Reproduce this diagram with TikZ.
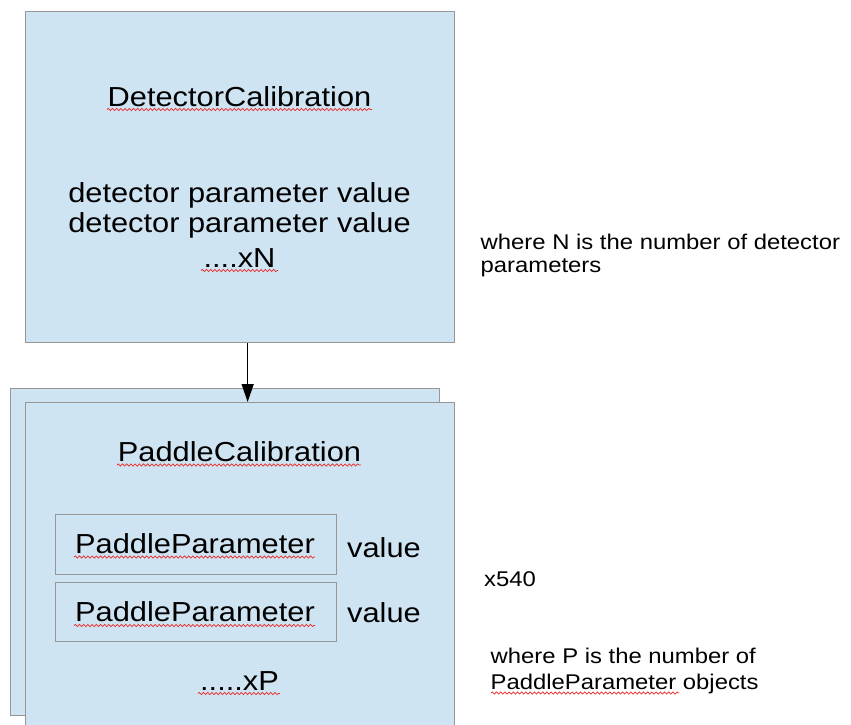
\documentclass[tikz,border=0pt]{standalone}
\usepackage{fontspec}
\setmainfont{Liberation Sans}[FakeStretch=1.12]
\usetikzlibrary{arrows.meta,decorations.pathmorphing}
\definecolor{boxfill}{RGB}{207,228,242}
\definecolor{boxline}{RGB}{150,150,150}
\definecolor{squigred}{RGB}{235,40,40}
\tikzset{
  box/.style={draw=boxline,fill=boxfill,line width=1.3pt,rectangle,inner sep=0pt,anchor=north west},
  bigtxt/.style={inner sep=0pt,font=\fontsize{27.5}{33}\selectfont,text=black},
  smalltxt/.style={inner sep=0pt,font=\fontsize{21.3}{25}\selectfont,text=black,anchor=base west},
  squig/.style={draw=squigred,line width=0.7pt,decorate,decoration={snake,amplitude=1.1pt,segment length=4.2pt}},
  conn/.style={draw=black,line width=1.3pt,-{Triangle[length=18pt,width=12pt]}}
}
\begin{document}
\begin{tikzpicture}[x=1pt,y=-1pt]
\useasboundingbox (0,0) rectangle (851,724);
\begin{scope}
\clip (0,0) rectangle (851,724);
% boxes
\node[box,minimum width=429pt,minimum height=331pt] (det) at (25,11) {};
\node[box,minimum width=429pt,minimum height=327pt] (pcback) at (10,388) {};
\node[box,minimum width=429pt,minimum height=345pt] (pc) at (25,402) {};
\node[box,minimum width=281pt,minimum height=60pt] (pp1) at (55,514) {};
\node[box,minimum width=281pt,minimum height=59pt] (pp2) at (55,582) {};
% texts in detector box
\node[bigtxt,anchor=base] (dettitle) at (239.5,106) {DetectorCalibration};
\node[bigtxt,anchor=base] (detl1) at (239.5,202) {detector parameter value};
\node[bigtxt,anchor=base] (detl2) at (239.5,232) {detector parameter value};
\node[bigtxt,anchor=base] (detl3) at (239.5,267) {....xN};
% texts in paddle box
\node[bigtxt,anchor=base] (pctitle) at (239.5,461.5) {PaddleCalibration};
\node[bigtxt,anchor=base] (pp1t) at (195,553) {PaddleParameter};
\node[bigtxt,anchor=base] (pp2t) at (195,621.5) {PaddleParameter};
\node[bigtxt,anchor=base west] (v1) at (347,557.5) {value};
\node[bigtxt,anchor=base west] (v2) at (347,622) {value};
\node[bigtxt,anchor=base] (pcl3) at (239.5,690) {.....xP};
% right side notes
\node[smalltxt] (noteN1) at (480.5,249) {where N is the number of detector};
\node[smalltxt] (noteN2) at (480.5,272) {parameters};
\node[smalltxt] (x540) at (484,586) {x540};
\node[smalltxt] (noteP1) at (490.5,663) {where P is the number of};
\node[smalltxt] (noteP2) at (490.5,689) {PaddleParameter objects};
% spell-check squiggles
\draw[squig] (107,109.5) -- (372,109.5);
\draw[squig] (201,270.5) -- (278,270.5);
\draw[squig] (117,465) -- (361,465);
\draw[squig] (74,557) -- (315,557);
\draw[squig] (74,625.5) -- (315,625.5);
\draw[squig] (198,693.5) -- (280,693.5);
\draw[squig] (491,693) -- (679,693);
% connector
\draw[conn] ([xshift=7.5pt]det.south) -- ([xshift=7.5pt]pc.north);
\end{scope}
\end{tikzpicture}
\end{document}
